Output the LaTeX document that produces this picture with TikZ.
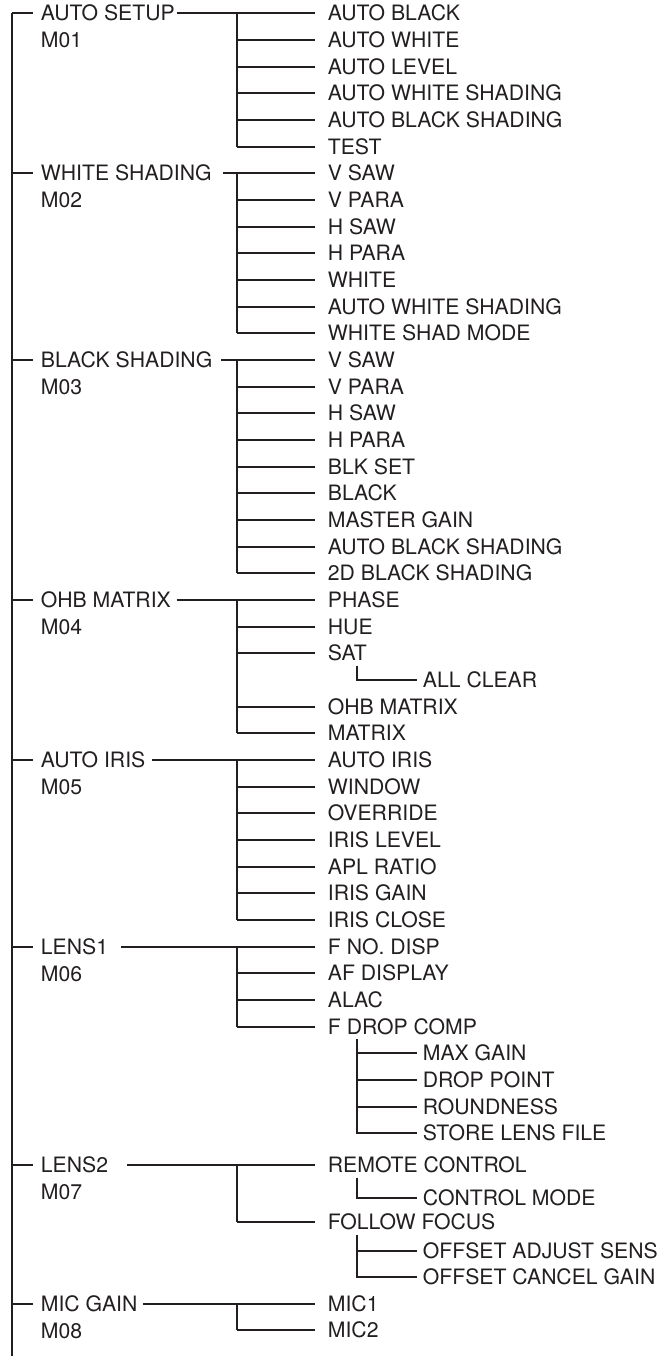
\documentclass[tikz,border=0pt]{standalone}
\usepackage{fontspec}
\setmainfont{TeX Gyre Heros}
\definecolor{ink}{HTML}{231F20}

\begin{document}
\begin{tikzpicture}[x=0.5pt, y=-0.5pt, line width=0.9pt, draw=ink, font=\fontsize{10.6}{12}\selectfont,
	txt/.style={inner sep=0pt, anchor=west, text height=7.6pt, text depth=0pt, text=ink}]
	\useasboundingbox (0,0) rectangle (666,1356);
	\path (12.3,13.3) coordinate (trunk) (12.3,1356) coordinate (trunkend);
	\draw (trunk)--(trunkend);
	% menus M01..M08 with their items
	\foreach \n/\t/\m/\y/\g/\e/\kids in {
		g1/AUTO SETUP/M01/13.3/1/146.7/{13.3/AUTO BLACK,40/AUTO WHITE,66.7/AUTO LEVEL,93.3/AUTO WHITE SHADING,120/AUTO BLACK SHADING,146.7/TEST},
		g2/WHITE SHADING/M02/173.3/10/333.3/{173.3/V SAW,200/V PARA,226.7/H SAW,253.3/H PARA,280/WHITE,306.7/AUTO WHITE SHADING,333.3/WHITE SHAD MODE},
		g3/BLACK SHADING/M03/360/8/573.3/{360/V SAW,386.7/V PARA,413.3/H SAW,440/H PARA,466.7/BLK SET,493.3/BLACK,520/MASTER GAIN,546.7/AUTO BLACK SHADING,573.3/2D BLACK SHADING},
		g4/OHB MATRIX/M04/600/5/733.3/{600/PHASE,626.7/HUE,653.3/SAT,706.7/OHB MATRIX,733.3/MATRIX},
		g5/AUTO IRIS/M05/760/6/920/{760/AUTO IRIS,786.7/WINDOW,813.3/OVERRIDE,840/IRIS LEVEL,866.7/APL RATIO,893.3/IRIS GAIN,920/IRIS CLOSE},
		g6/LENS1/M06/946.7/12/1026.7/{946.7/F NO. DISP,973.3/AF DISPLAY,1000/ALAC,1026.7/F DROP COMP},
		g7/LENS2/M07/1165/18/1222.3/{1165/REMOTE CONTROL,1222.3/FOLLOW FOCUS},
		g8/MIC GAIN/M08/1304.3/5/1330/{1304.3/MIC1,1330/MIC2}}
	{
		\node[txt] (\n) at (40,\y) {\t};
		\node[txt] (m\n) at (40,\y+26.7) {\m};
		\draw (trunk |- \n.west)--([xshift=-3.5pt]\n.west);
		\draw ([xshift=\g*0.5pt]\n.east)--(237,\y)--(237,\e);
		\foreach \cy/\ct [count=\i] in \kids {
			\node[txt] (\n-\i) at (327,\cy) {\ct};
			\draw (237,\cy)--([xshift=-6pt]\n-\i.west);
		}
	}
	% third level
	\foreach \p/\cy/\ct [count=\i] in {g4-3/680/ALL CLEAR,g6-4/1053.3/MAX GAIN,g6-4/1080/DROP POINT,g6-4/1106.7/ROUNDNESS,g6-4/1133.3/STORE LENS FILE,
		g7-1/1197.7/CONTROL MODE,g7-2/1251/OFFSET ADJUST SENS,g7-2/1276.7/OFFSET CANCEL GAIN}
	{
		\node[txt] (s\i) at (422,\cy) {\ct};
		\draw ([xshift=15pt,yshift=-2pt]\p.south west) |- ([xshift=-2.5pt]s\i.west);
	}
\end{tikzpicture}
\end{document}
